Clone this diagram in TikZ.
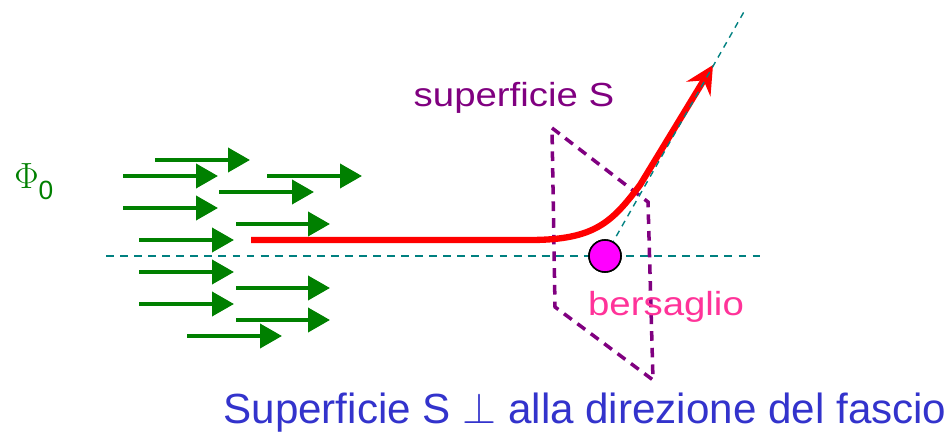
\documentclass[tikz,border=0pt]{standalone}
\usepackage{fontspec}
\setmainfont{Liberation Sans}
\usepackage{amsmath}
\usetikzlibrary{arrows.meta,positioning}
\definecolor{fluxGreen}{HTML}{008000}
\definecolor{axisTeal}{HTML}{008080}
\definecolor{surfPurple}{HTML}{800080}
\definecolor{trajRed}{HTML}{FF0000}
\definecolor{targetMag}{HTML}{FF00FF}
\definecolor{labelPink}{HTML}{FF3399}
\definecolor{capBlue}{HTML}{3333CC}
\newcommand{\wider}[1]{\scalebox{1.15}[1]{#1}}
\tikzset{
  beam/.style={-{Triangle[length=0.44cm,width=0.48cm]},line width=2.2pt,draw=fluxGreen},
  axis/.style={draw=axisTeal,line width=0.9pt,dash pattern=on 4.5pt off 3.5pt},
  exitaxis/.style={draw=axisTeal,line width=0.8pt,dash pattern=on 3.5pt off 3pt},
  surface/.style={draw=surfPurple,line width=2pt,dash pattern=on 5.5pt off 4pt},
  traj/.style={draw=trajRed,line width=3.6pt,line join=round,
    -{Stealth[length=0.56cm,width=0.56cm,inset=0.2cm]}},
  target/.style={circle,draw=black,line width=0.9pt,fill=targetMag,
    minimum size=0.64cm,inner sep=0pt},
  lbl/.style={text=#1,font=\fontsize{19}{22}\selectfont,inner sep=0pt,anchor=base}
}
\begin{document}
\begin{tikzpicture}[x=0.02cm,y=-0.02cm]
  \useasboundingbox (0,0) rectangle (952,435);
  \node[text=fluxGreen,anchor=base west,inner sep=0pt,font=\fontsize{22}{26}\selectfont]
    (flux) at (14,189) {$\Phi$\raisebox{-6pt}{\fontsize{15}{18}\selectfont 0}};
  \foreach \xa/\xb/\y in {155/250/160,123/218/176,267/362/176,219/314/192,
      123/218/208,236/330/224,139/234/240,139/234/272,236/330/288,
      139/234/304,236/330/320,187/282/336}
    \draw[beam] (\xa,\y) -- (\xb,\y);
  \coordinate (axisL) at (106,256);
  \coordinate (axisR) at (760,256);
  \coordinate (exitEnd) at (745,10);
  \coordinate (inStart) at (251,240);
  \coordinate (bend) at (530,240);
  \coordinate (exitTip) at (713,65);
  \draw[axis] (axisL) -- (axisR);
  \draw[surface] (552,128) -- (648,202) -- (653,380) -- (555,307) -- cycle;
  \draw[traj] (inStart) -- (bend) .. controls (595,240) and (612,222) .. (640,185) -- (exitTip);
  \node[target] (bers) at (605,256) {};
  \draw[exitaxis] (bers.center) -- (exitEnd);
  \node[target] at (bers) {};
  \node[lbl=surfPurple] (slabel) at (514,107) {\wider{superficie S}};
  \node[lbl=labelPink] (blabel) at (666,315) {\wider{bersaglio}};
  \node[text=capBlue,anchor=base,inner sep=0pt,font=\fontsize{24}{28}\selectfont]
    (caption) at (585,423) {Superficie S $\perp$ alla direzione del fascio};
\end{tikzpicture}
\end{document}
